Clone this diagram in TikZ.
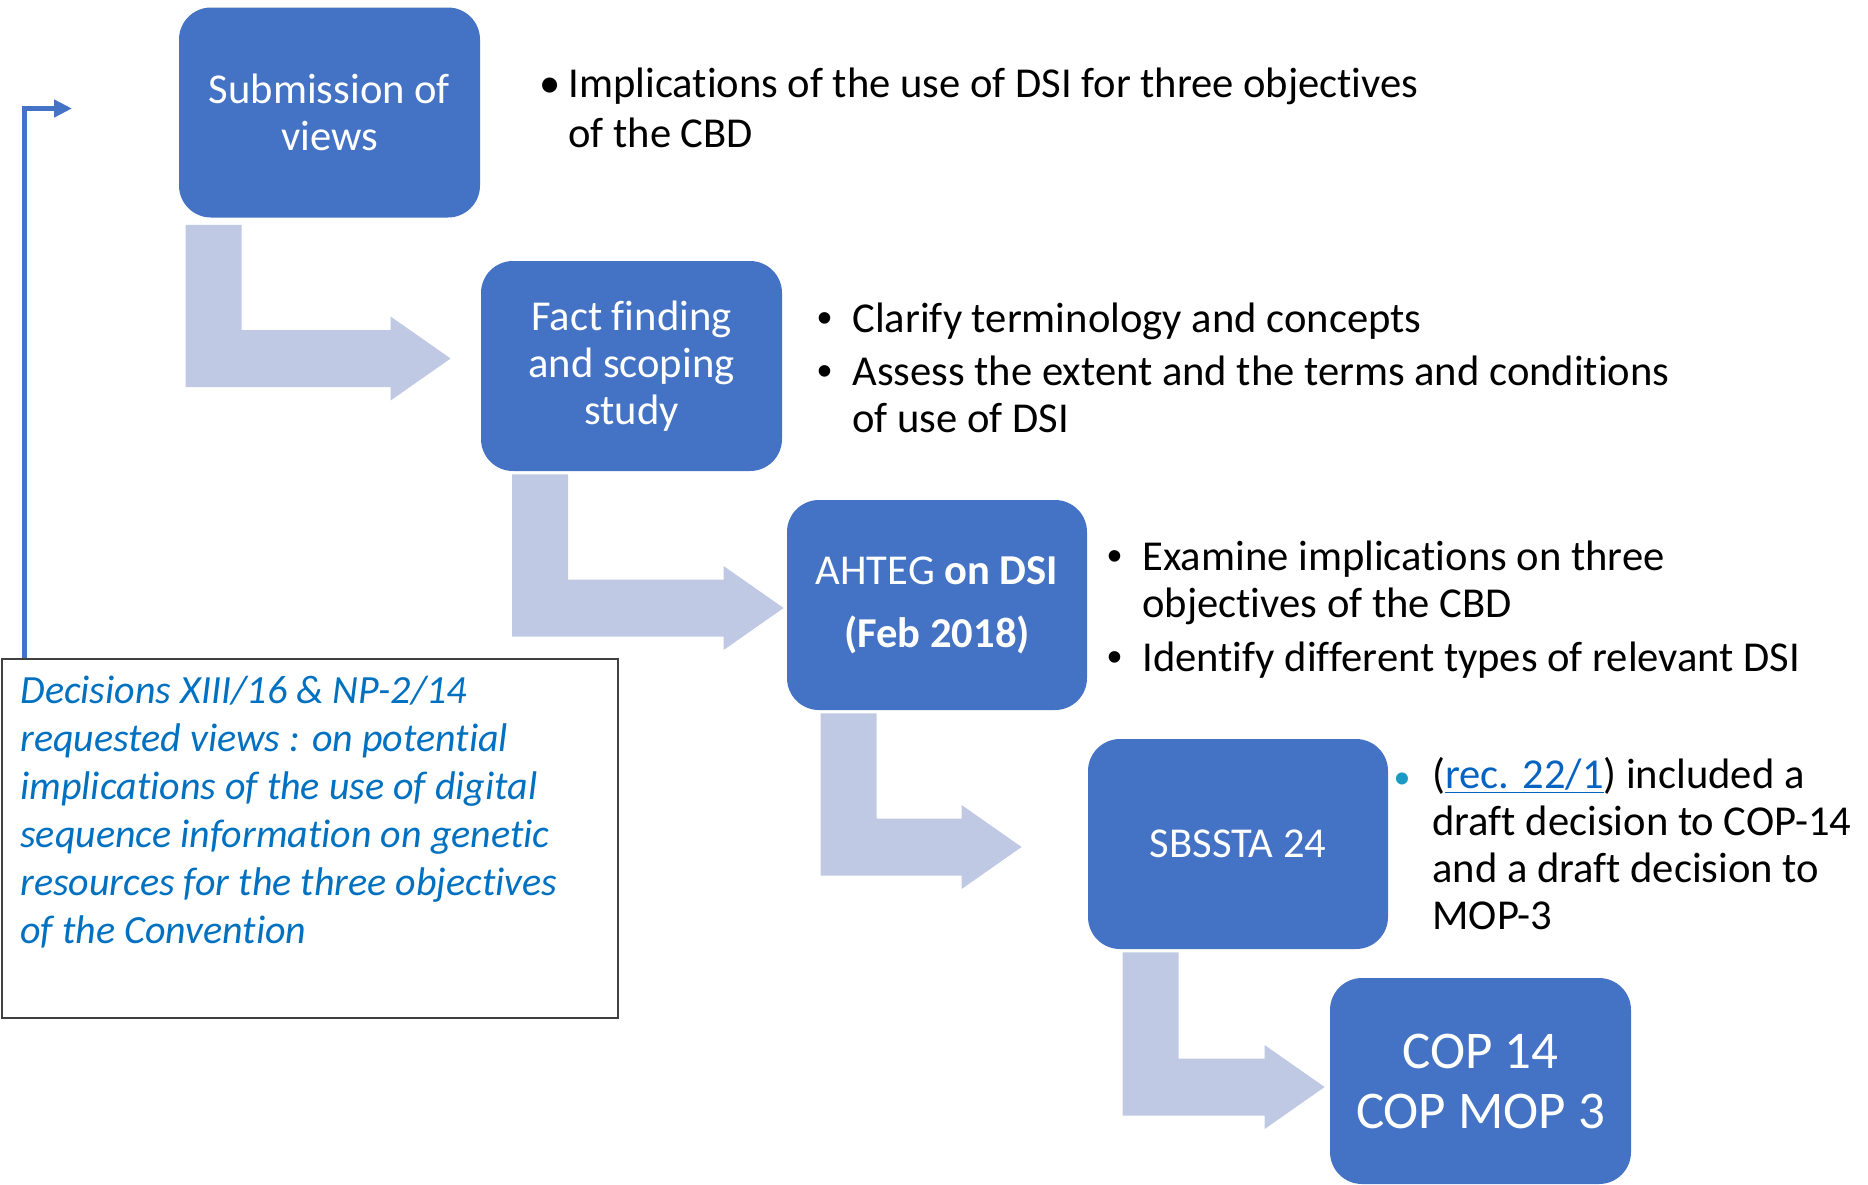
\documentclass[tikz,border=0pt]{standalone}
\usepackage{fontspec}
\setmainfont{Carlito}[Ligatures=NoCommon]
\newfontfamily\arialfont{Liberation Sans}
\usetikzlibrary{calc,arrows.meta}
\definecolor{boxblue}{HTML}{4472C4}
\definecolor{arrowpale}{HTML}{BFC9E4}
\definecolor{decblue}{HTML}{0070C0}
\definecolor{linkblue}{HTML}{0563C1}
\definecolor{bulletteal}{HTML}{1B9AC6}
\definecolor{framegray}{HTML}{404040}
\newcommand\lns[1]{\begin{tabular}[t]{@{}l@{}}#1\end{tabular}}
\newcommand\bentarrow[2]{\fill[arrowpale] (#1) -- ++(56,0) |- ($(#2)+(-60,-28.5)$) -- ++(0,-13.5) -- (#2) -- ($(#2)+(-60,42)$) -- ++(0,-13.5) -| (#1) -- cycle;}
\tikzset{
  stage/.style={fill=boxblue, rounded corners=16pt, minimum width=150.5pt, minimum height=105pt,
    inner sep=0pt, text=white, align=center, font=\fontsize{21.3}{23.5}\selectfont},
  btxt/.style={anchor=base west, inner sep=0pt, font=\fontsize{21.3}{23.5}\selectfont},
  bulA/.style={anchor=base, inner sep=0pt, font=\fontsize{21.3}{23.5}\selectfont},
  bulB/.style={anchor=base, inner sep=0pt, font=\arialfont\fontsize{21.3}{23.5}\selectfont},
  bulC/.style={anchor=base, inner sep=0pt, text=bulletteal, font=\fontsize{17}{20}\selectfont},
  dectxt/.style={anchor=base west, inner sep=0pt, text=decblue, font=\fontsize{20}{24}\selectfont\itshape},
  decframe/.style={draw=framegray, line width=0.75pt, anchor=north west, inner sep=0pt,
    minimum width=308pt, minimum height=179.5pt},
  fbline/.style={draw=boxblue, line width=2.5pt, -{Triangle[length=9pt,width=8.5pt]}}
}
\begin{document}
\begin{tikzpicture}[x=0.5pt,y=-0.5pt]
\useasboundingbox (0,0) rectangle (1868,1184);
% stage boxes
\node[stage] (b1) at (329.5,112.5) {Submission of\\views};
\node[stage] (b2) at (631.5,366) {Fact finding\\and scoping\\study};
\node[stage, minimum width=150pt, font=\fontsize{21.3}{31.5}\selectfont] (b3) at (937,605) {AHTEG \textbf{on DSI}\\\textbf{(Feb 2018)}};
\node[stage, minimum width=150pt] (b4) at (1238,844) {SBSSTA 24};
\node[stage, minimum height=103pt, font=\fontsize{26.5}{30}\selectfont] (b5) at (1480.5,1081) {COP 14\\COP MOP 3};
% bent arrows
\coordinate (s1) at ($(b1.south west)+(7,7)$);
\coordinate (t1) at ($(b2.west)+(-30,-7.5)$);
\coordinate (s2) at ($(b2.south west)+(31.5,3)$);
\coordinate (t2) at ($(b3.west)+(-3,3)$);
\coordinate (s3) at ($(b3.south west)+(34,3)$);
\coordinate (t3) at ($(b4.west)+(-66,3)$);
\coordinate (s4) at ($(b4.south west)+(35,3)$);
\coordinate (t4) at ($(b5.west)+(-5,6)$);
\bentarrow{s1}{t1}
\bentarrow{s2}{t2}
\bentarrow{s3}{t3}
\bentarrow{s4}{t4}
% bullet texts
\node[bulA] (g1b) at (550,97) {•};
\node[btxt, font=\fontsize{21.3}{25}\selectfont] (g1) at (568,97) {\lns{Implications of the use of DSI for three objectives\\of the CBD}};
\node[bulB] (g2ab) at (825,332) {•};
\node[btxt] (g2a) at (852,332) {Clarify terminology and concepts};
\node[bulB] (g2bb) at (825,385) {•};
\node[btxt] (g2b) at (852,385) {\lns{Assess the extent and the terms and conditions\\of use of DSI}};
\node[bulB] (g3ab) at (1115,570) {•};
\node[btxt] (g3a) at (1142,570) {\lns{Examine implications on three\\objectives of the CBD}};
\node[bulB] (g3bb) at (1115,671) {•};
\node[btxt] (g3b) at (1142,671) {Identify different types of relevant DSI};
\node[bulC] (g4b) at (1402,788) {•};
\node[btxt] (g4) at (1432,788) {\lns{(\textcolor{linkblue}{\underline{rec. 22/1}}) included a\\draft decision to COP-14\\and a draft decision to\\MOP-3}};
% decisions box
\node[decframe] (dec) at (1,658) {};
\node[dectxt] (dect) at (20,703) {\lns{Decisions XIII/16 \& NP-2/14\\requested views : on potential\\implications of the use of digital\\sequence information on genetic\\resources for the three objectives\\of the Convention}};
% feedback arrow
\coordinate (fb) at (72,108.5);
\draw[fbline] ($(dec.north west)+(23,0)$) |- (fb);
\end{tikzpicture}
\end{document}
